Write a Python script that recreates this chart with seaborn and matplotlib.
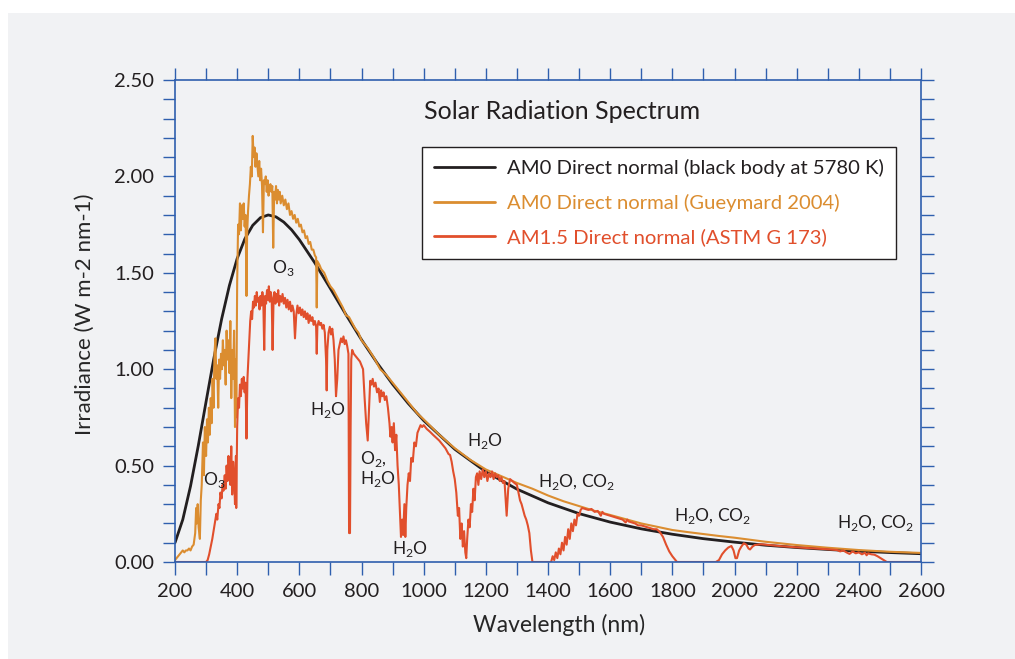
import pandas as pd
import matplotlib
matplotlib.use("Agg")
import matplotlib.pyplot as plt
import seaborn as sns
from matplotlib.patches import Rectangle
from matplotlib.ticker import MultipleLocator, FormatStrFormatter

# Black body curve (AM0, 5780 K): (wavelength nm, irradiance)
blackbody = [
    (200, 0.100), (225, 0.220), (250, 0.394), (275, 0.604), (300, 0.832),
    (325, 1.056), (350, 1.260), (375, 1.434), (400, 1.574), (425, 1.677),
    (450, 1.746), (475, 1.786), (500, 1.800), (525, 1.790), (550, 1.763),
    (575, 1.723), (600, 1.672), (650, 1.551), (700, 1.418), (750, 1.283),
    (800, 1.153), (850, 1.033), (900, 0.922), (950, 0.823), (1000, 0.734),
    (1100, 0.585), (1200, 0.468), (1300, 0.378), (1400, 0.307), (1500, 0.251),
    (1600, 0.207), (1700, 0.172), (1800, 0.144), (1900, 0.121), (2000, 0.103),
    (2100, 0.087), (2200, 0.075), (2300, 0.065), (2400, 0.056), (2500, 0.049),
    (2600, 0.043),
]

# AM0 direct normal (Gueymard 2004)
am0 = [
    (200, 0.01), (205, 0.02), (210, 0.03), (215, 0.04), (220, 0.05), (225, 0.06),
    (230, 0.05), (235, 0.06), (240, 0.06), (245, 0.07), (250, 0.06), (255, 0.08),
    (260, 0.09), (265, 0.15), (268, 0.28), (270, 0.20), (273, 0.30), (276, 0.18),
    (280, 0.12), (283, 0.32), (286, 0.40), (290, 0.62), (293, 0.45), (296, 0.70),
    (300, 0.55), (303, 0.74), (306, 0.62), (309, 0.80), (312, 0.66), (315, 0.85),
    (318, 0.72), (321, 0.95), (324, 0.80), (327, 1.08), (330, 1.16), (333, 0.95),
    (336, 1.02), (339, 0.80), (342, 1.05), (345, 0.95), (348, 1.08), (351, 1.00),
    (354, 1.15), (357, 1.02), (360, 1.10), (363, 0.92), (366, 1.20), (369, 1.05),
    (372, 1.15), (375, 0.98), (378, 1.25), (381, 0.85), (384, 1.10), (387, 0.95),
    (390, 1.20), (393, 0.70), (396, 1.05), (397, 0.75), (400, 1.45), (403, 1.75),
    (406, 1.70), (409, 1.86), (412, 1.72), (415, 1.85), (418, 1.78), (421, 1.86),
    (424, 1.74), (427, 1.80), (430, 1.38), (432, 1.70), (435, 1.82), (438, 1.90),
    (441, 1.96), (444, 2.05), (447, 2.00), (450, 2.21), (453, 2.10), (456, 2.15),
    (459, 2.05), (462, 2.12), (465, 2.06), (468, 2.00), (471, 2.08), (474, 1.98),
    (477, 2.04), (480, 1.95), (483, 1.71), (486, 1.98), (489, 1.96), (492, 2.00),
    (495, 1.92), (498, 1.98), (501, 1.90), (504, 1.94), (507, 1.96), (510, 1.92),
    (513, 1.95), (516, 1.63), (519, 1.92), (522, 1.88), (525, 1.95), (528, 1.86),
    (531, 1.93), (534, 1.88), (537, 1.92), (540, 1.86), (545, 1.90), (550, 1.85),
    (555, 1.88), (560, 1.83), (565, 1.86), (570, 1.80), (575, 1.82), (580, 1.78),
    (585, 1.80), (590, 1.76), (595, 1.78), (600, 1.74), (605, 1.75), (610, 1.71),
    (615, 1.72), (620, 1.68), (625, 1.69), (630, 1.65), (635, 1.66), (640, 1.62),
    (645, 1.62), (650, 1.59), (654, 1.58), (656, 1.32), (658, 1.56), (665, 1.54),
    (670, 1.52), (680, 1.50), (690, 1.46), (700, 1.43), (710, 1.41), (720, 1.38),
    (730, 1.35), (740, 1.32), (750, 1.28), (760, 1.27), (770, 1.24), (780, 1.21),
    (790, 1.19), (800, 1.15), (820, 1.11), (840, 1.06), (860, 1.00), (880, 0.97),
    (900, 0.93), (920, 0.89), (940, 0.85), (960, 0.81), (980, 0.77), (1000, 0.74),
    (1050, 0.66), (1100, 0.59), (1150, 0.53), (1200, 0.48), (1250, 0.445),
    (1300, 0.41), (1350, 0.38), (1400, 0.345), (1450, 0.315), (1500, 0.29),
    (1550, 0.265), (1600, 0.244), (1650, 0.222), (1700, 0.20), (1750, 0.183),
    (1800, 0.166), (1850, 0.155), (1900, 0.145), (1950, 0.135), (2000, 0.126),
    (2100, 0.105), (2200, 0.088), (2300, 0.074), (2400, 0.062), (2500, 0.053),
    (2600, 0.047),
]

# AM1.5 direct normal (ASTM G 173)
am15 = [
    (200, 0.0), (300, 0.0), (305, 0.01), (310, 0.04), (315, 0.08), (320, 0.12),
    (325, 0.17), (330, 0.22), (333, 0.25), (336, 0.22), (340, 0.30), (343, 0.28),
    (346, 0.36), (350, 0.33), (353, 0.40), (356, 0.37), (360, 0.45), (363, 0.38),
    (366, 0.50), (369, 0.42), (372, 0.55), (375, 0.48), (378, 0.40), (381, 0.60),
    (384, 0.35), (387, 0.52), (390, 0.45), (393, 0.30), (396, 0.55), (397, 0.28),
    (400, 0.70), (403, 0.85), (406, 0.80), (409, 0.92), (412, 0.86), (415, 0.95),
    (418, 0.90), (421, 0.96), (424, 0.88), (427, 0.93), (430, 0.64), (433, 0.95),
    (436, 1.05), (439, 1.15), (442, 1.25), (445, 1.30), (448, 1.26), (451, 1.35),
    (454, 1.32), (457, 1.38), (460, 1.33), (463, 1.40), (466, 1.35), (469, 1.37),
    (472, 1.31), (475, 1.38), (478, 1.33), (481, 1.40), (484, 1.36), (487, 1.10),
    (490, 1.38), (493, 1.34), (496, 1.41), (499, 1.36), (502, 1.43), (505, 1.35),
    (508, 1.40), (511, 1.37), (514, 1.10), (517, 1.36), (520, 1.40), (523, 1.34),
    (526, 1.39), (529, 1.35), (532, 1.41), (535, 1.33), (538, 1.38), (542, 1.35),
    (546, 1.39), (550, 1.34), (554, 1.37), (558, 1.32), (562, 1.36), (566, 1.31),
    (570, 1.35), (574, 1.30), (578, 1.33), (582, 1.30), (586, 1.16), (590, 1.28),
    (594, 1.33), (598, 1.29), (602, 1.32), (606, 1.28), (610, 1.31), (614, 1.27),
    (618, 1.30), (622, 1.26), (626, 1.29), (630, 1.24), (634, 1.28), (638, 1.25),
    (642, 1.27), (646, 1.23), (650, 1.25), (654, 1.22), (656, 1.08), (658, 1.22),
    (662, 1.25), (666, 1.23), (670, 1.24), (674, 1.21), (678, 1.23), (682, 1.19),
    (686, 1.05), (688, 0.89), (690, 1.10), (694, 1.19), (698, 1.22), (702, 1.18),
    (706, 1.21), (710, 1.15), (714, 1.05), (718, 0.86), (722, 0.95), (726, 1.10),
    (730, 1.13), (734, 1.16), (738, 1.14), (742, 1.17), (746, 1.13), (750, 1.15),
    (754, 1.12), (758, 1.08), (760, 0.15), (763, 0.15), (765, 0.70), (767, 1.05),
    (770, 1.10), (775, 1.08), (780, 1.07), (785, 1.06), (790, 1.05), (795, 1.04),
    (800, 1.02), (805, 1.00), (810, 0.85), (815, 0.72), (820, 0.63), (824, 0.78),
    (828, 0.94), (832, 0.92), (836, 0.95), (840, 0.91), (845, 0.93), (850, 0.88),
    (855, 0.90), (859, 0.83), (863, 0.89), (867, 0.86), (871, 0.88), (875, 0.84),
    (880, 0.86), (885, 0.80), (890, 0.72), (893, 0.65), (897, 0.70), (900, 0.62),
    (904, 0.72), (908, 0.58), (912, 0.66), (916, 0.50), (920, 0.40), (924, 0.25),
    (927, 0.13), (931, 0.22), (934, 0.14), (938, 0.30), (941, 0.13), (944, 0.28),
    (948, 0.40), (952, 0.46), (956, 0.42), (960, 0.54), (965, 0.52), (970, 0.62),
    (975, 0.60), (980, 0.67), (985, 0.69), (990, 0.71), (995, 0.70), (1000, 0.71),
    (1010, 0.69), (1020, 0.676), (1030, 0.66), (1040, 0.645), (1050, 0.63),
    (1060, 0.61), (1070, 0.59), (1080, 0.56), (1085, 0.555), (1090, 0.52),
    (1095, 0.47), (1100, 0.43), (1105, 0.36), (1110, 0.24), (1114, 0.28),
    (1118, 0.12), (1122, 0.20), (1126, 0.08), (1130, 0.16), (1134, 0.05),
    (1137, 0.02), (1140, 0.12), (1144, 0.22), (1148, 0.18), (1152, 0.30),
    (1156, 0.26), (1160, 0.38), (1164, 0.32), (1168, 0.44), (1172, 0.46),
    (1176, 0.40), (1180, 0.47), (1185, 0.43), (1190, 0.48), (1195, 0.44),
    (1200, 0.47), (1205, 0.42), (1210, 0.46), (1215, 0.44), (1220, 0.47),
    (1225, 0.43), (1230, 0.46), (1235, 0.44), (1240, 0.45), (1245, 0.42),
    (1250, 0.44), (1255, 0.41), (1260, 0.42), (1267, 0.24), (1272, 0.38),
    (1278, 0.43), (1285, 0.42), (1292, 0.41), (1300, 0.40), (1305, 0.36),
    (1310, 0.32), (1315, 0.30), (1320, 0.27), (1325, 0.24), (1330, 0.22),
    (1335, 0.19), (1340, 0.15), (1345, 0.06), (1350, 0.0), (1410, 0.0),
    (1415, 0.03), (1420, 0.01), (1425, 0.05), (1430, 0.02), (1435, 0.07),
    (1440, 0.04), (1445, 0.10), (1450, 0.06), (1455, 0.13), (1460, 0.09),
    (1465, 0.17), (1470, 0.12), (1475, 0.20), (1480, 0.16), (1485, 0.22),
    (1490, 0.19), (1495, 0.25), (1500, 0.24), (1505, 0.27), (1510, 0.28),
    (1520, 0.275), (1530, 0.27), (1540, 0.275), (1550, 0.26), (1560, 0.265),
    (1570, 0.24), (1575, 0.26), (1580, 0.25), (1590, 0.245), (1600, 0.24),
    (1610, 0.235), (1620, 0.23), (1630, 0.225), (1640, 0.22), (1650, 0.205),
    (1655, 0.22), (1660, 0.21), (1670, 0.205), (1680, 0.20), (1690, 0.19),
    (1700, 0.19), (1710, 0.185), (1720, 0.18), (1730, 0.175), (1740, 0.17),
    (1750, 0.17), (1760, 0.155), (1770, 0.13), (1780, 0.09), (1790, 0.055),
    (1800, 0.03), (1810, 0.01), (1815, 0.0), (1940, 0.0), (1950, 0.01),
    (1960, 0.04), (1970, 0.06), (1980, 0.075), (1990, 0.083), (1997, 0.06),
    (2003, 0.02), (2008, 0.02), (2015, 0.06), (2022, 0.08), (2030, 0.097),
    (2038, 0.09), (2045, 0.07), (2050, 0.065), (2058, 0.08), (2065, 0.088),
    (2075, 0.09), (2085, 0.092), (2100, 0.09), (2150, 0.082), (2200, 0.076),
    (2250, 0.071), (2300, 0.066), (2330, 0.062), (2340, 0.055), (2350, 0.06),
    (2360, 0.05), (2370, 0.042), (2380, 0.055), (2390, 0.045), (2400, 0.05),
    (2410, 0.04), (2420, 0.048), (2425, 0.035), (2430, 0.045), (2440, 0.04),
    (2450, 0.038), (2460, 0.03), (2470, 0.02), (2480, 0.01), (2490, 0.0),
    (2600, 0.0),
]

labels = [
    "AM0 Direct normal (black body at 5780 K)",
    "AM0 Direct normal (Gueymard 2004)",
    "AM1.5 Direct normal (ASTM G 173)",
]
colors = ["#231f20", "#db8d30", "#e14f2c"]

# absorption band labels: (text, wavelength, irradiance)
bands = [
    ("O$_\\mathregular{3}$", 512, 1.525),
    ("O$_\\mathregular{3}$", 290, 0.425),
    ("H$_\\mathregular{2}$O", 634, 0.79),
    ("O$_\\mathregular{2}$,\nH$_\\mathregular{2}$O", 795, 0.48),
    ("H$_\\mathregular{2}$O", 898, 0.07),
    ("H$_\\mathregular{2}$O", 1139, 0.63),
    ("H$_\\mathregular{2}$O, CO$_\\mathregular{2}$", 1368, 0.415),
    ("H$_\\mathregular{2}$O, CO$_\\mathregular{2}$", 1805, 0.24),
    ("H$_\\mathregular{2}$O, CO$_\\mathregular{2}$", 2330, 0.20),
]

sns.set_theme(style="ticks")
plt.rcParams["font.family"] = ["Lato", "DejaVu Sans"]
plt.rcParams["mathtext.fontset"] = "custom"
plt.rcParams["mathtext.rm"] = "Lato"
plt.rcParams["text.color"] = "#231f20"

PANEL = "#f1f2f4"
BLUE = "#2f5fae"

fig = plt.figure(figsize=(10.15, 6.59), dpi=100)
fig.patch.set_facecolor("white")
fig.add_artist(Rectangle((8 / 1015, 0), 1, 1 - 13 / 659, transform=fig.transFigure,
                         facecolor=PANEL, edgecolor="none", zorder=-10))

ax = fig.add_axes([175 / 1015, 1 - 562 / 659, 746 / 1015, 482 / 659])
ax.set_facecolor(PANEL)

widths = [2.0, 1.5, 1.5]
for data, lab, col, lw in zip([blackbody, am0, am15], labels, colors, widths):
    df = pd.DataFrame(data, columns=["nm", "irr"])
    sns.lineplot(data=df, x="nm", y="irr", ax=ax, color=col, linewidth=lw,
                 label=lab, estimator=None, sort=False)

ax.set_xlim(200, 2600)
ax.set_ylim(0, 2.5)
ax.xaxis.set_major_locator(MultipleLocator(200))
ax.xaxis.set_minor_locator(MultipleLocator(100))
ax.yaxis.set_major_locator(MultipleLocator(0.5))
ax.yaxis.set_minor_locator(MultipleLocator(0.1))
ax.yaxis.set_major_formatter(FormatStrFormatter("%.2f"))
ax.tick_params(which="both", direction="out", length=9, width=1, color=BLUE,
               top=True, right=True, labeltop=False, labelright=False,
               labelsize=14.5, labelcolor="#231f20", pad=6)
for sp in ax.spines.values():
    sp.set_color(BLUE)
    sp.set_linewidth(1.2)

ax.set_xlabel("Wavelength (nm)", fontsize=16.5)
ax.set_ylabel("Irradiance (W m-2 nm-1)", fontsize=16)
ax.xaxis.set_label_coords(0.515, -0.108)
ax.yaxis.set_label_coords(-0.108, 0.515)

ax.text(0.334, 0.934, "Solar Radiation Spectrum", transform=ax.transAxes,
        fontsize=18, ha="left", va="center")

for txt, x, y in bands:
    ax.text(x, y, txt, fontsize=12.5, ha="left", va="center", linespacing=1.0)

leg = ax.legend(loc="upper left", bbox_to_anchor=(0.331, 0.861), borderaxespad=0,
                fontsize=14.6, handlelength=3.0, handletextpad=0.6,
                labelspacing=0.82, borderpad=0.6, fancybox=False, framealpha=1)
leg.get_frame().set_edgecolor("#231f20")
leg.get_frame().set_linewidth(1.0)
for t, c in zip(leg.get_texts(), colors):
    t.set_color(c)
for h in leg.get_lines():
    h.set_linewidth(2.0)

fig.savefig("out.png", dpi=100)
